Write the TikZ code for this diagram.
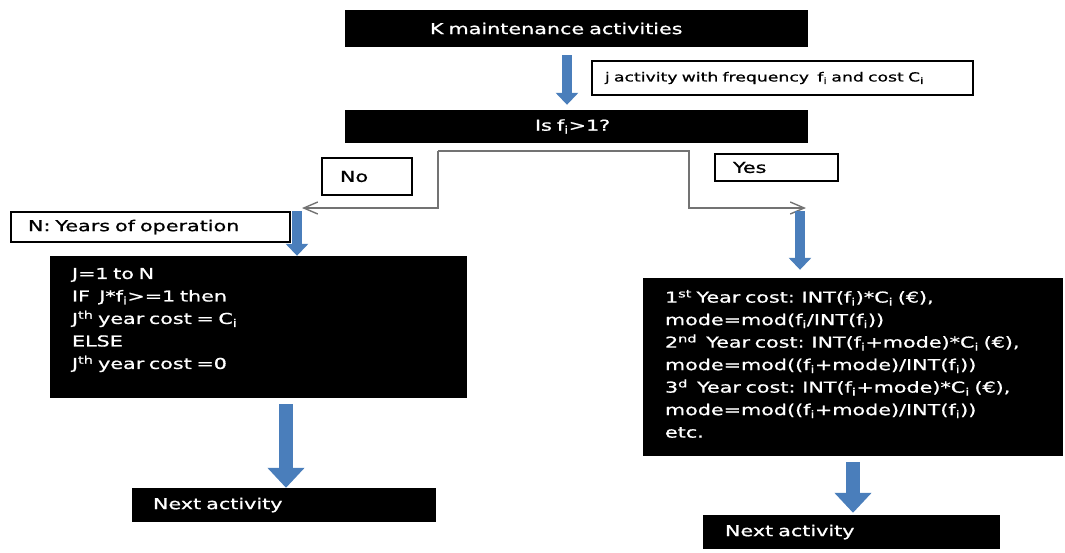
\documentclass[tikz,border=0pt]{standalone}
\usepackage{fontspec}
\setmainfont[FakeStretch=1.38,FakeBold=0.8,WordSpace=0.7]{DejaVu Sans}
\usetikzlibrary{arrows.meta}

\definecolor{arrowblue}{RGB}{74,126,187}
\definecolor{linegray}{RGB}{115,115,115}

\begin{document}
\begin{tikzpicture}[x=1pt,y=-1pt,
  every node/.style={font=\fontsize{15}{22.5}\selectfont},
  blk/.style={fill=black,text=white,inner sep=0pt,align=left},
  wbox/.style={draw=black,line width=1.2pt,fill=white,inner sep=0pt,align=left},
  fat/.style={arrowblue,line width=10pt,-{Triangle[length=12pt,width=22pt]}},
  fatter/.style={arrowblue,line width=14pt,-{Triangle[length=20pt,width=36pt]}},
  gline/.style={linegray,line width=1.4pt},
  >={Straight Barb[length=14pt,width=12pt]}]
\useasboundingbox (0,0) rectangle (1065,552);
\node[blk,minimum width=463pt,minimum height=37pt,text width=293pt] (K) at (576.5,28.5) {K maintenance activities};
\node[wbox,minimum width=381pt,minimum height=34pt,text width=355pt,font=\fontsize{12.5}{15}\selectfont] (J) at (782.5,78) {j activity with frequency~ f\textsubscript{i} and cost C\textsubscript{i}};
\node[blk,minimum width=463pt,minimum height=33pt,text width=83pt] (Is) at (576.5,126.5) {Is f\textsubscript{i}>1?};
\node[wbox,minimum width=90pt,minimum height=37pt,text width=54pt] (No) at (367,176.5) {No\\[-4pt]};
\node[wbox,minimum width=123pt,minimum height=27pt,text width=87pt] (Yes) at (776.5,167.5) {Yes};
\node[wbox,minimum width=279pt,minimum height=30pt,text width=245pt] (N) at (150.5,227) {N: Years of operation};
\node[blk,inner xsep=22pt,inner ysep=12pt] (L) at (258.5,327) {\parbox[c][118pt][t]{373pt}{\raggedright
  J=1 to N\\
  IF~ J*f\textsubscript{i}>=1 then\\
  J\textsuperscript{th} year cost = C\textsubscript{i}\\
  ELSE\\
  J\textsuperscript{th} year cost =0}};
\node[blk,inner xsep=22pt,inner ysep=12pt] (R) at (853,367) {\parbox[c][154pt][t]{376pt}{\raggedright
  1\textsuperscript{st} Year cost: INT(f\textsubscript{i})*C\textsubscript{i} (€),\\
  mode=mod(f\textsubscript{i}/INT(f\textsubscript{i}))\\
  2\textsuperscript{nd}~ Year cost: INT(f\textsubscript{i}+mode)*C\textsubscript{i} (€),\\
  mode=mod((f\textsubscript{i}+mode)/INT(f\textsubscript{i}))\\
  3\textsuperscript{d}~ Year cost: INT(f\textsubscript{i}+mode)*C\textsubscript{i} (€),\\
  mode=mod((f\textsubscript{i}+mode)/INT(f\textsubscript{i}))\\
  etc.}};
\node[blk,minimum width=304pt,minimum height=34pt,text width=262pt] (NL) at (284,505) {Next activity};
\node[blk,minimum width=297pt,minimum height=34pt,text width=253pt] (NR) at (851.5,532) {Next activity};
\coordinate (nofork) at (438,151);
\coordinate (yesfork) at (689,151);
\coordinate (noend) at (302,208);
\coordinate (yesend) at (806,208);
\draw[fat,shorten <=8pt,shorten >=5pt] ([xshift=-9.5pt]K.south) -- ([xshift=-9.5pt]Is.north);
\draw[gline,->] (nofork) |- (noend);
\draw[gline,->] (nofork) -- (yesfork) |- (yesend);
\draw[fat] ([xshift=38.5pt]L.north |- N.north) -- ([xshift=38.5pt]L.north);
\draw[fat,shorten >=8pt] ([xshift=-53pt]R.north |- N.north) -- ([xshift=-53pt]R.north);
\draw[fatter,shorten <=6pt] ([xshift=27.5pt]L.south) -- ([xshift=2pt]NL.north);
\draw[fatter,shorten <=6pt,shorten >=2pt] (R.south) -- ([xshift=1.5pt]NR.north);
\end{tikzpicture}
\end{document}
